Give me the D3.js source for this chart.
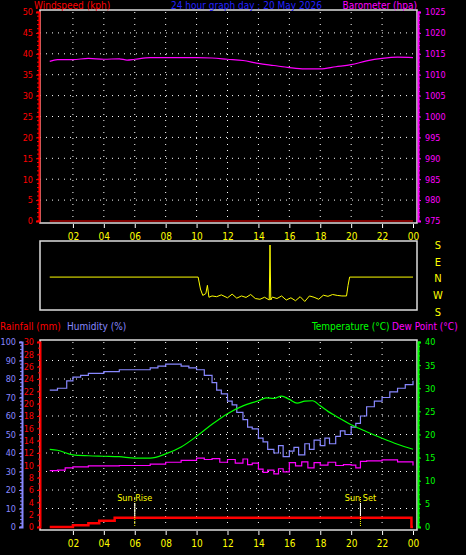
<!DOCTYPE html>
<html><head><meta charset="utf-8">
<script src="https://cdn.jsdelivr.net/npm/d3@7"></script>
<style>body{margin:0;background:#000}svg{display:block}text{font-family:"Liberation Sans Narrow","DejaVu Sans Condensed",sans-serif;font-size:9px}</style>
</head><body>
<script>
// hours 0..24
var hourTicks = [2,4,6,8,10,12,14,16,18,20,22,24];
var hourLabels = ["02","04","06","08","10","12","14","16","18","20","22","00"];

var baroHours = [0.5,1,2,3,4,5,5.5,6,7,8,9,10,11,12,13,14,15,16,17,18,19,20,21,22,23,24];
var baroVals  = [1013.2,1013.6,1013.6,1013.9,1013.7,1013.8,1013.5,1013.7,1014.1,1014.1,1014.1,1014.1,1014.0,1013.7,1013.4,1012.7,1012.2,1011.7,1011.4,1011.4,1011.9,1012.4,1013.3,1013.9,1014.2,1014.1];

var windSpeedHours = [0.5,24];
var windSpeedVals = [0,0];

var dirHours = [0.5,10.1,10.25,10.4,10.6,10.7,10.8,11,11.3,11.6,12,12.3,12.6,12.9,13.2,13.5,13.8,14.1,14.4,14.7,14.75,14.8,14.9,15.2,15.5,15.8,16.1,16.4,16.7,17,17.3,17.6,17.9,18.2,18.5,18.8,19.1,19.4,19.7,19.8,19.9,24];
var dirVals  = [5,5,300,265,275,320,255,262,258,268,252,272,250,262,254,270,248,244,255,240,180,240,256,248,262,240,252,236,258,232,262,255,244,266,260,270,265,262,262,320,5,5];

var humHours = [0.5,1,1.4,1.6,2,2.5,3,4,5,6,7,7.5,8,8.5,9,9.5,10,10.5,11,11.3,11.6,12,12.3,12.6,13,13.3,13.6,14,14.3,14.6,15,15.3,15.6,16,16.3,16.6,17,17.3,17.6,18,18.3,18.6,19,19.3,19.6,20,20.3,20.6,21,21.5,22,22.5,23,23.5,24];
var humVals  = [74,75,75,79,81,82,83,84,85,85,86,87,88,88,87,86,85,82,78,74,72,68,66,62,58,54,53,48,46,42,40,44,38,41,43,39,45,42,47,44,48,45,49,52,50,54,56,60,65,68,70,73,75,77,79];

var tempHours = [0.5,1,2,3,4,5,6,7,8,9,10,11,12,13,14,14.5,15,15.5,16,16.5,17,17.5,18,18.5,19,20,21,22,23,24];
var tempVals  = [16.8,16.6,15.6,15.4,15.3,15.2,14.9,14.9,15.8,17.3,19.6,22.2,24.5,26.2,27.3,27.9,27.8,28.3,27.6,26.8,27.2,27.3,26.2,25.0,24.0,22.1,20.6,19.2,17.9,16.8];

var dewHours = [0.5,1,1.5,2,3,4,5,6,7,8,9,10,10.5,11,11.5,12,12.5,13,13.3,13.6,14,14.3,14.6,15,15.3,15.6,16,16.4,16.8,17.2,17.6,18,18.5,19,19.5,20,20.3,20.6,21,22,23,24];
var dewVals  = [12.2,12.3,12.8,13.0,13.2,13.2,13.3,13.3,13.6,14.0,14.4,14.9,14.6,14.8,14.0,14.6,13.8,14.7,13.5,13.8,12.5,11.8,12.3,11.5,12.6,11.9,13.9,13.2,14.1,12.8,13.9,13.4,14.0,13.3,13.5,13.4,12.8,14.2,14.3,14.5,14.1,13.3];

var rainHours = [0.5,2,2,3,3,3.7,3.7,4.7,4.7,23.9,23.9,24];
var rainVals  = [0,0,0.3,0.3,0.6,0.6,1.0,1.0,1.5,1.5,0,0];

var svg = d3.select("body").append("svg").attr("width",466).attr("height",555);
svg.append("rect").attr("width",466).attr("height",555).attr("fill","#000");

var x = d3.scaleLinear().domain([0,24]).range([42,413]);

function grid(g, y, yTicks, top, bottom) {
  g.selectAll(".vg").data(hourTicks.slice(0,-1)).enter().append("line")
    .attr("x1",x).attr("x2",x).attr("y1",top).attr("y2",bottom)
    .attr("stroke","#fff").attr("stroke-dasharray","1,5");
  g.selectAll(".hg").data(yTicks).enter().append("line")
    .attr("x1",40).attr("x2",417).attr("y1",y).attr("y2",y)
    .attr("stroke","#fff").attr("stroke-dasharray","1,5");
}
function box(top,bottom){
  svg.append("rect").attr("x",40).attr("y",top).attr("width",377).attr("height",bottom-top)
    .attr("fill","none").attr("stroke","#ddd").attr("stroke-width",1.5);
}
function xAxis(yPos){
  var g = svg.append("g").attr("transform","translate(0,"+yPos+")")
    .call(d3.axisBottom(x).tickValues(hourTicks).tickFormat(function(d,i){return hourLabels[i];}).tickSize(4));
  g.select(".domain").remove();
  g.selectAll("line").attr("stroke","#fff");
  g.selectAll("text").attr("fill","#ff0").attr("dy","0.9em").style("font-size","10px");
}
function sideAxis(scale, xp, orient, color, ticks, minor){
  var ax = (orient=="left"?d3.axisLeft(scale):d3.axisRight(scale)).tickValues(ticks).tickFormat(d3.format("d")).tickSize(3).tickPadding(3);
  var g = svg.append("g").attr("transform","translate("+xp+",0)").call(ax);
  g.select(".domain").attr("stroke",color).attr("stroke-width",2);
  g.selectAll("line").attr("stroke",color);
  g.selectAll("text").attr("fill",color);
  if(minor){
    g.selectAll(".mn").data(minor).enter().append("line")
      .attr("x1",0).attr("x2",orient=="left"?-2:2).attr("y1",scale).attr("y2",scale).attr("stroke",color);
  }
  return g;
}
function path(hours, vals, y, color, w, curve){
  svg.append("path").datum(d3.zip(hours,vals))
    .attr("d", d3.line().x(function(d){return x(d[0]);}).y(function(d){return y(d[1]);}).curve(curve||d3.curveStepAfter))
    .attr("fill","none").attr("stroke",color).attr("stroke-width",w||1);
}

// ---- top panel
var yW = d3.scaleLinear().domain([0,50]).range([221,12]);
var yB = d3.scaleLinear().domain([975,1025]).range([221,12]);
grid(svg.append("g"), yW, d3.range(5,50,5), 12, 221);
path(baroHours, baroVals, yB, "#f0f", 1.2, d3.curveMonotoneX);
path(windSpeedHours, windSpeedVals, yW, "#f00", 1.2, d3.curveLinear);
box(10,223);
sideAxis(yW, 39, "left", "#f00", d3.range(0,51,5), d3.range(0,51,1));
sideAxis(yB, 418, "right", "#f0f", d3.range(975,1026,5), d3.range(975,1026,1)).selectAll("text").attr("x",7);
xAxis(224);
svg.append("text").attr("x",34).attr("y",9).attr("fill","#f00").style("font-size","10px").text("Windspeed (kph)");
svg.append("text").attr("x",171).attr("y",9).attr("fill","#22f").style("font-size","10px").text("24 hour graph day : 20 May 2026");
svg.append("text").attr("x",417).attr("y",9).attr("text-anchor","end").attr("fill","#f0f").style("font-size","10px").text("Barometer (hpa)");

// ---- wind direction
var yD = d3.scaleLinear().domain([180,-180]).range([245,311]);
path(dirHours, dirVals.map(function(d){return d>180?d-360:d;}), yD, "#ff0", 1, d3.curveLinear);
box(241,310);
svg.selectAll(".cmp").data(["S","E","N","W","S"]).enter().append("text")
  .attr("x",438).attr("y",function(d,i){return 249+i*16.7;}).attr("text-anchor","middle")
  .attr("fill","#ff0").style("font-size","11px").text(function(d){return d;});

// ---- bottom panel
var yH = d3.scaleLinear().domain([0,100]).range([527,342]);
var yR = d3.scaleLinear().domain([0,30]).range([527,342]);
var yT = d3.scaleLinear().domain([0,40]).range([527,342]);
grid(svg.append("g"), yH, d3.range(10,100,10), 342, 527);
path(humHours, humVals, yH, "#88f", 1.2);
path(tempHours, tempVals, yT, "#0f0", 1.2, d3.curveMonotoneX);
path(dewHours, dewVals, yT, "#f0f", 1.2);
path(rainHours, rainVals, yR, "#f00", 2.5, d3.curveLinear);
[[6,"Sun Rise"],[20.6,"Sun Set"]].forEach(function(s){
  svg.append("line").attr("x1",x(s[0])).attr("x2",x(s[0])).attr("y1",497).attr("y2",527)
    .attr("stroke","#ff0").attr("stroke-dasharray","1,1");
  svg.append("line").attr("x1",x(s[0])).attr("x2",x(s[0])).attr("y1",503).attr("y2",516).attr("stroke","#fff");
  svg.append("text").attr("x",x(s[0])).attr("y",501).attr("text-anchor","middle").attr("fill","#ff0").text(s[1]);
});
box(340,530);
sideAxis(yH, 22, "left", "#88f", d3.range(0,101,10), d3.range(0,101,2));
sideAxis(yR, 40, "left", "#f00", d3.range(0,31,2), d3.range(0,31,1));
sideAxis(yT, 418, "right", "#0f0", d3.range(0,41,5), d3.range(0,41,1)).selectAll("text").attr("x",7);
xAxis(531);
svg.append("text").attr("x",0).attr("y",330).attr("fill","#f00").style("font-size","10px").text("Rainfall (mm)");
svg.append("text").attr("x",67).attr("y",330).attr("fill","#88f").style("font-size","10px").text("Humidity (%)");
svg.append("text").attr("x",312).attr("y",330).attr("fill","#0f0").style("font-size","10px").text("Temperature (°C)");
svg.append("text").attr("x",392).attr("y",330).attr("fill","#f0f").style("font-size","10px").text("Dew Point (°C)");
</script>
</body></html>
